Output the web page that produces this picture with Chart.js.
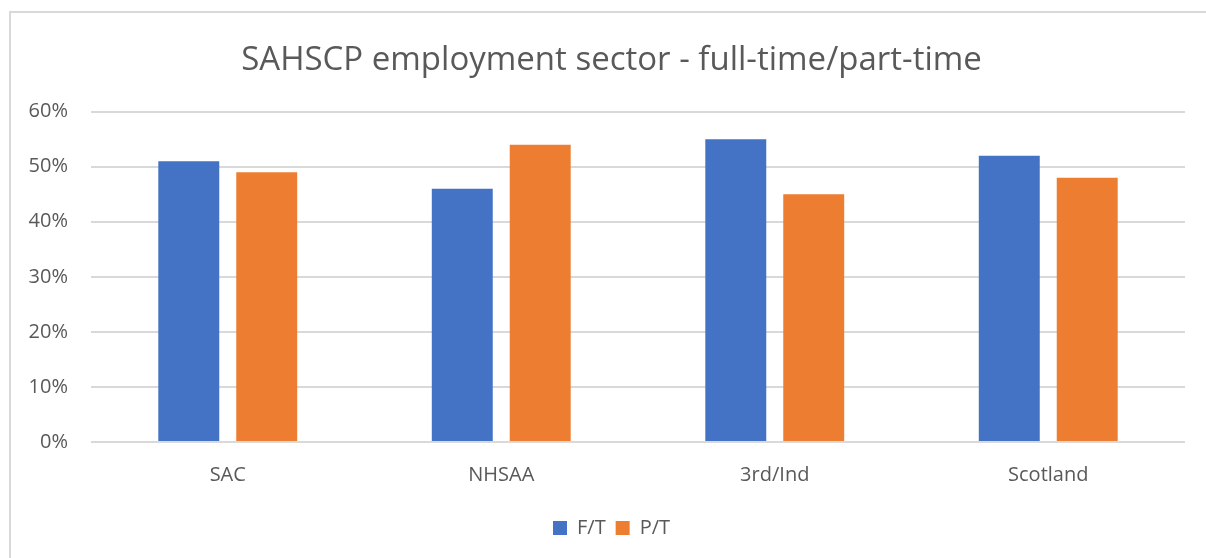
<!DOCTYPE html>
<html>
<head>
<meta charset="utf-8">
<script src="https://cdn.jsdelivr.net/npm/chart.js@4/dist/chart.umd.min.js"></script>
<style>
  html, body { margin: 0; padding: 0; background: #fff; overflow: hidden; }
  #wrap { position: relative; width: 1206px; height: 558px; overflow: hidden; }
</style>
</head>
<body>
<div id="wrap"><canvas id="c" width="1223" height="558"></canvas></div>
<script>
const categories = ["SAC", "NHSAA", "3rd/Ind", "Scotland"];
const fullTime = [51, 46, 55, 52];
const partTime = [49, 54, 45, 48];
const seriesNames = ["F/T", "P/T"];
const yTicks = [0, 10, 20, 30, 40, 50, 60];

const FONT = "'Open Sans', 'Noto Sans', sans-serif";
const TEXT = "#595959";

const borderPlugin = {
  id: 'outerBorder',
  beforeDraw(chart) {
    const ctx = chart.ctx;
    ctx.save();
    ctx.fillStyle = '#fff';
    ctx.fillRect(0, 0, chart.width, chart.height);
    ctx.strokeStyle = '#d9d9d9';
    ctx.lineWidth = 2;
    ctx.beginPath();
    ctx.moveTo(10, chart.height + 5);
    ctx.lineTo(10, 12);
    ctx.lineTo(chart.width + 5, 12);
    ctx.stroke();
    ctx.restore();
  }
};

new Chart(document.getElementById('c'), {
  type: 'bar',
  data: {
    labels: categories,
    datasets: [
      { label: seriesNames[0], data: fullTime, backgroundColor: '#4472C4', categoryPercentage: 0.57, barPercentage: 0.782 },
      { label: seriesNames[1], data: partTime, backgroundColor: '#ED7D31', categoryPercentage: 0.57, barPercentage: 0.782 }
    ]
  },
  options: {
    responsive: false,
    animation: false,
    layout: { padding: { left: 0, right: 0, top: 0, bottom: 10 } },
    plugins: {
      title: {
        display: true,
        text: 'SAHSCP employment sector - full-time/part-time',
        color: TEXT,
        font: { family: FONT, size: 33, weight: 'normal' },
        padding: { top: 41, bottom: 31 }
      },
      legend: {
        position: 'bottom',
        labels: {
          color: TEXT,
          font: { family: FONT, size: 20 },
          boxWidth: 14, boxHeight: 14,
          padding: 10
        }
      },
      tooltip: { enabled: false }
    },
    scales: {
      x: {
        grid: { display: false, drawTicks: false },
        border: { display: false },
        ticks: { color: TEXT, font: { family: FONT, size: 20 }, padding: 21 },
        afterFit(scale) { scale.height = 66; }
      },
      y: {
        min: 0, max: 60,
        afterBuildTicks(scale) { scale.ticks = yTicks.map(v => ({ value: v })); },
        grid: { color: '#d9d9d9', lineWidth: 2, drawTicks: false },
        border: { display: false },
        ticks: {
          color: TEXT, font: { family: FONT, size: 20 }, padding: 23,
          callback: v => v + '%'
        },
        afterFit(scale) { scale.width = 91; }
      },
      yRightSpace: {
        position: 'right',
        min: 0, max: 60,
        grid: { display: false, drawTicks: false },
        border: { display: false },
        ticks: { display: false },
        afterFit(scale) { scale.width = 38; }
      }
    }
  },
  plugins: [borderPlugin]
});
</script>
</body>
</html>
